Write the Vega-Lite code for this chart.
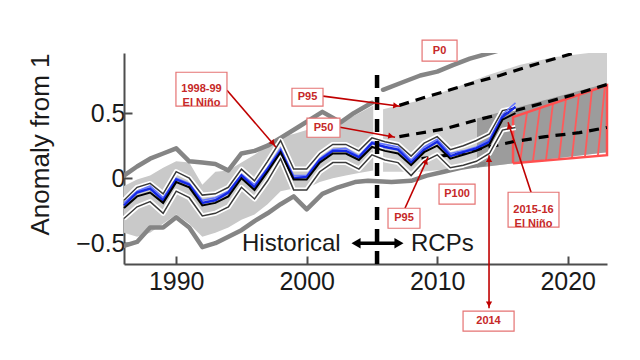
{
  "$schema": "https://vega.github.io/schema/vega-lite/v6.json",
  "width": 483,
  "height": 211,
  "autosize": {"type": "none"},
  "padding": {"left": 124, "top": 53, "right": 33, "bottom": 96},
  "background": "white",
  "config": {"view": {"stroke": null}, "font": "Liberation Sans"},
  "datasets": {
    "bands": [
      {"r": "hist", "year": 1986, "v": -0.42, "v2": -0.06},
      {"r": "hist", "year": 1987, "v": -0.45, "v2": -0.01},
      {"r": "hist", "year": 1988, "v": -0.42, "v2": 0.02},
      {"r": "hist", "year": 1989, "v": -0.35, "v2": 0.08},
      {"r": "hist", "year": 1990, "v": -0.28, "v2": 0.13},
      {"r": "hist", "year": 1991, "v": -0.35, "v2": 0.12},
      {"r": "hist", "year": 1992, "v": -0.45, "v2": -0.05},
      {"r": "hist", "year": 1993, "v": -0.42, "v2": 0.05},
      {"r": "hist", "year": 1994, "v": -0.38, "v2": 0.06},
      {"r": "hist", "year": 1995, "v": -0.32, "v2": 0.12},
      {"r": "hist", "year": 1996, "v": -0.28, "v2": 0.18},
      {"r": "hist", "year": 1997, "v": -0.2, "v2": 0.25},
      {"r": "hist", "year": 1998, "v": -0.1, "v2": 0.32},
      {"r": "hist", "year": 1999, "v": -0.08, "v2": 0.34},
      {"r": "hist", "year": 2000, "v": -0.08, "v2": 0.37},
      {"r": "hist", "year": 2001, "v": -0.03, "v2": 0.41},
      {"r": "hist", "year": 2002, "v": 0.0, "v2": 0.44},
      {"r": "hist", "year": 2003, "v": 0.02, "v2": 0.45},
      {"r": "hist", "year": 2004, "v": 0.04, "v2": 0.5},
      {"r": "hist", "year": 2005.1, "v": 0.06, "v2": 0.56},
      {"r": "light", "year": 2005.85, "v": 0.05, "v2": 0.53},
      {"r": "light", "year": 2008.7, "v": 0.05, "v2": 0.6},
      {"r": "light", "year": 2011.2, "v": 0.07, "v2": 0.69},
      {"r": "light", "year": 2013.8, "v": 0.09, "v2": 0.79},
      {"r": "light", "year": 2016.3, "v": 0.12, "v2": 0.87},
      {"r": "light", "year": 2018.9, "v": 0.15, "v2": 0.93},
      {"r": "light", "year": 2023.01, "v": 0.2, "v2": 0.98},
      {"r": "dark", "year": 2013.05, "v": 0.08, "v2": 0.46},
      {"r": "dark", "year": 2023.01, "v": 0.2, "v2": 0.73}
    ],
    "env": [
      {"s": "hmax", "year": 1986, "v": 0.02},
      {"s": "hmax", "year": 1987, "v": 0.09},
      {"s": "hmax", "year": 1988, "v": 0.15},
      {"s": "hmax", "year": 1989, "v": 0.19},
      {"s": "hmax", "year": 1990, "v": 0.23},
      {"s": "hmax", "year": 1991, "v": 0.13},
      {"s": "hmax", "year": 1992, "v": 0.12},
      {"s": "hmax", "year": 1993, "v": 0.11},
      {"s": "hmax", "year": 1994, "v": 0.06},
      {"s": "hmax", "year": 1995, "v": 0.19},
      {"s": "hmax", "year": 1996, "v": 0.21},
      {"s": "hmax", "year": 1997, "v": 0.25},
      {"s": "hmax", "year": 1998, "v": 0.31},
      {"s": "hmax", "year": 1999.3, "v": 0.39},
      {"s": "hmax", "year": 2001.2, "v": 0.51},
      {"s": "hmax", "year": 2002.6, "v": 0.43},
      {"s": "hmax", "year": 2003.6, "v": 0.5},
      {"s": "hmax", "year": 2005.0, "v": 0.58},
      {"s": "p0", "year": 2005.85, "v": 0.68},
      {"s": "p0", "year": 2007.4, "v": 0.74},
      {"s": "p0", "year": 2008.7, "v": 0.79},
      {"s": "p0", "year": 2010.0, "v": 0.82},
      {"s": "p0", "year": 2011.2, "v": 0.87},
      {"s": "p0", "year": 2012.5, "v": 0.92},
      {"s": "p0", "year": 2014.3, "v": 0.97},
      {"s": "p0", "year": 2016.0, "v": 1.02},
      {"s": "hmin", "year": 1986, "v": -0.52},
      {"s": "hmin", "year": 1987, "v": -0.49},
      {"s": "hmin", "year": 1988, "v": -0.38},
      {"s": "hmin", "year": 1989, "v": -0.38},
      {"s": "hmin", "year": 1990, "v": -0.3},
      {"s": "hmin", "year": 1991, "v": -0.38},
      {"s": "hmin", "year": 1992, "v": -0.53},
      {"s": "hmin", "year": 1993, "v": -0.5},
      {"s": "hmin", "year": 1994, "v": -0.45},
      {"s": "hmin", "year": 1995, "v": -0.4},
      {"s": "hmin", "year": 1996, "v": -0.33},
      {"s": "hmin", "year": 1997, "v": -0.27},
      {"s": "hmin", "year": 1998, "v": -0.2},
      {"s": "hmin", "year": 1999, "v": -0.14},
      {"s": "hmin", "year": 2000, "v": -0.24},
      {"s": "hmin", "year": 2001.2, "v": -0.12},
      {"s": "hmin", "year": 2002.4, "v": -0.07},
      {"s": "hmin", "year": 2003.7, "v": -0.03},
      {"s": "hmin", "year": 2004.7, "v": -0.02},
      {"s": "hmin", "year": 2006.5, "v": -0.03},
      {"s": "hmin", "year": 2008.0, "v": -0.02},
      {"s": "hmin", "year": 2009.2, "v": 0.02},
      {"s": "hmin", "year": 2010.5, "v": 0.05},
      {"s": "hmin", "year": 2011.8, "v": 0.08},
      {"s": "hmin", "year": 2013.0, "v": 0.1},
      {"s": "hmin", "year": 2013.6, "v": 0.11}
    ],
    "pct": [
      {"s": "top", "year": 2007.1, "v": 0.56},
      {"s": "top", "year": 2009, "v": 0.62},
      {"s": "top", "year": 2011, "v": 0.68},
      {"s": "top", "year": 2013, "v": 0.74},
      {"s": "top", "year": 2014.8, "v": 0.79},
      {"s": "top", "year": 2017, "v": 0.86},
      {"s": "top", "year": 2020.4, "v": 0.96},
      {"s": "top", "year": 2021, "v": 0.98},
      {"s": "mid", "year": 2007.1, "v": 0.32},
      {"s": "mid", "year": 2010.6, "v": 0.38},
      {"s": "mid", "year": 2013.1, "v": 0.45},
      {"s": "mid", "year": 2015.6, "v": 0.51},
      {"s": "mid", "year": 2018.2, "v": 0.58},
      {"s": "mid", "year": 2020.7, "v": 0.65},
      {"s": "mid", "year": 2023.0, "v": 0.72},
      {"s": "low", "year": 2008.8, "v": 0.15},
      {"s": "low", "year": 2011, "v": 0.18},
      {"s": "low", "year": 2013.5, "v": 0.23},
      {"s": "low", "year": 2015.8, "v": 0.28},
      {"s": "low", "year": 2018.3, "v": 0.32},
      {"s": "low", "year": 2020.9, "v": 0.35},
      {"s": "low", "year": 2023.0, "v": 0.39}
    ],
    "obs": [
      {"year": 1986, "c": -0.23, "up": -0.17, "lo": -0.31, "b1": -0.21, "b2": -0.19},
      {"year": 1987, "c": -0.14, "up": -0.07, "lo": -0.22, "b1": -0.11, "b2": -0.1},
      {"year": 1988, "c": -0.11, "up": -0.04, "lo": -0.18, "b1": -0.08, "b2": -0.06},
      {"year": 1989, "c": -0.19, "up": -0.12, "lo": -0.27, "b1": -0.17, "b2": -0.15},
      {"year": 1990, "c": -0.03, "up": 0.05, "lo": -0.1, "b1": -0.01, "b2": 0.0},
      {"year": 1991, "c": -0.07, "up": 0.0, "lo": -0.15, "b1": -0.05, "b2": -0.04},
      {"year": 1992, "c": -0.21, "up": -0.13, "lo": -0.29, "b1": -0.19, "b2": -0.17},
      {"year": 1993, "c": -0.19, "up": -0.12, "lo": -0.27, "b1": -0.17, "b2": -0.15},
      {"year": 1994, "c": -0.14, "up": -0.07, "lo": -0.22, "b1": -0.11, "b2": -0.1},
      {"year": 1995, "c": 0.0, "up": 0.07, "lo": -0.07, "b1": 0.02, "b2": 0.03},
      {"year": 1996, "c": -0.09, "up": -0.02, "lo": -0.16, "b1": -0.07, "b2": -0.05},
      {"year": 1997, "c": 0.05, "up": 0.13, "lo": -0.02, "b1": 0.07, "b2": 0.08},
      {"year": 1998, "c": 0.2, "up": 0.29, "lo": 0.15, "b1": 0.21, "b2": 0.23},
      {"year": 1999, "c": -0.01, "up": 0.07, "lo": -0.09, "b1": 0.0, "b2": 0.02},
      {"year": 2000, "c": -0.01, "up": 0.07, "lo": -0.09, "b1": 0.01, "b2": 0.02},
      {"year": 2001, "c": 0.12, "up": 0.19, "lo": 0.05, "b1": 0.14, "b2": 0.15},
      {"year": 2002, "c": 0.19, "up": 0.26, "lo": 0.12, "b1": 0.21, "b2": 0.22},
      {"year": 2003, "c": 0.19, "up": 0.26, "lo": 0.12, "b1": 0.21, "b2": 0.23},
      {"year": 2004, "c": 0.14, "up": 0.21, "lo": 0.07, "b1": 0.16, "b2": 0.17},
      {"year": 2005, "c": 0.24, "up": 0.31, "lo": 0.18, "b1": 0.27, "b2": 0.28},
      {"year": 2006, "c": 0.21, "up": 0.28, "lo": 0.14, "b1": 0.24, "b2": 0.26},
      {"year": 2007, "c": 0.19, "up": 0.26, "lo": 0.12, "b1": 0.22, "b2": 0.24},
      {"year": 2008, "c": 0.1, "up": 0.17, "lo": 0.02, "b1": 0.12, "b2": 0.14},
      {"year": 2009, "c": 0.2, "up": 0.27, "lo": 0.13, "b1": 0.22, "b2": 0.24},
      {"year": 2010, "c": 0.25, "up": 0.32, "lo": 0.18, "b1": 0.28, "b2": 0.3},
      {"year": 2011, "c": 0.15, "up": 0.22, "lo": 0.08, "b1": 0.17, "b2": 0.19},
      {"year": 2012, "c": 0.18, "up": 0.25, "lo": 0.1, "b1": 0.2, "b2": 0.21},
      {"year": 2013, "c": 0.21, "up": 0.29, "lo": 0.13, "b1": 0.23, "b2": 0.24},
      {"year": 2014, "c": 0.26, "up": 0.34, "lo": 0.19, "b1": 0.28, "b2": 0.3},
      {"year": 2015, "c": 0.45, "up": 0.52, "lo": 0.37, "b1": 0.47, "b2": 0.49},
      {"year": 2016, "c": 0.5, "up": 0.54, "lo": 0.39, "b1": 0.55, "b2": 0.58}
    ],
    "hatchpoly": [
      {"o": 1, "year": 2015.81, "v": 0.115},
      {"o": 2, "year": 2015.81, "v": 0.47},
      {"o": 3, "year": 2023.01, "v": 0.715},
      {"o": 4, "year": 2023.01, "v": 0.177},
      {"o": 5, "year": 2015.81, "v": 0.115}
    ],
    "hatchlines": [
      {"year": 2016.34, "v": 0.12, "year2": 2016.88, "v2": 0.506},
      {"year": 2017.33, "v": 0.128, "year2": 2017.87, "v2": 0.54},
      {"year": 2018.33, "v": 0.137, "year2": 2018.87, "v2": 0.574},
      {"year": 2019.33, "v": 0.145, "year2": 2019.86, "v2": 0.608},
      {"year": 2020.32, "v": 0.154, "year2": 2020.86, "v2": 0.642},
      {"year": 2021.32, "v": 0.162, "year2": 2021.85, "v2": 0.676},
      {"year": 2022.31, "v": 0.171, "year2": 2022.85, "v2": 0.71}
    ],
    "boxes": [
      {"year": 1989.98, "year2": 1993.89, "v": 0.815, "v2": 0.554},
      {"year": 1998.87, "year2": 2001.25, "v": 0.692, "v2": 0.554},
      {"year": 2000.02, "year2": 2002.55, "v": 0.462, "v2": 0.315},
      {"year": 2008.84, "year2": 2011.52, "v": 1.062, "v2": 0.9},
      {"year": 2010.14, "year2": 2012.9, "v": -0.046, "v2": -0.2},
      {"year": 2006.23, "year2": 2008.68, "v": -0.231, "v2": -0.385},
      {"year": 2015.43, "year2": 2019.33, "v": -0.108, "v2": -0.377},
      {"year": 2011.98, "year2": 2015.89, "v": -1.023, "v2": -1.177}
    ],
    "notes": [
      {"year": 1991.94, "v": 0.685, "label": "1998-99\nEl Niño"},
      {"year": 2000.06, "v": 0.623, "label": "P95"},
      {"year": 2001.29, "v": 0.388, "label": "P50"},
      {"year": 2010.18, "v": 0.981, "label": "P0"},
      {"year": 2011.52, "v": -0.123, "label": "P100"},
      {"year": 2007.46, "v": -0.308, "label": "P95"},
      {"year": 2017.38, "v": -0.242, "label": "2015-16\nEl Niño"},
      {"year": 2013.93, "v": -1.1, "label": "2014"}
    ],
    "arrows": [
      {"year": 1993.89, "v": 0.677, "year2": 1997.65, "v2": 0.238},
      {"year": 2001.25, "v": 0.631, "year2": 2007.15, "v2": 0.554},
      {"year": 2002.55, "v": 0.392, "year2": 2006.77, "v2": 0.315},
      {"year": 2007.53, "v": -0.231, "year2": 2009.3, "v2": 0.162},
      {"year": 2017.19, "v": -0.108, "year2": 2015.43, "v2": 0.431},
      {"year": 2013.97, "v": 0.177, "year2": 2013.97, "v2": -1.0}
    ],
    "heads": [
      {"year": 1997.42, "v": 0.269, "ang": 139},
      {"year": 2006.84, "v": 0.558, "ang": 97},
      {"year": 2006.46, "v": 0.323, "ang": 100},
      {"year": 2009.14, "v": 0.131, "ang": 24},
      {"year": 2015.5, "v": 0.4, "ang": 342},
      {"year": 2013.97, "v": 0.146, "ang": 0},
      {"year": 2013.97, "v": -0.969, "ang": 180}
    ]
  },
  "encoding": {
    "x": {
      "field": "year",
      "type": "quantitative",
      "scale": {"domain": [1986, 2023.01], "nice": false, "zero": false},
      "axis": {
        "values": [1990, 2000, 2010, 2020],
        "format": "d",
        "title": null,
        "grid": false,
        "labelFont": "Liberation Sans",
        "labelFontSize": 25,
        "labelColor": "#1a1a1a",
        "labelPadding": 13,
        "domainColor": "#4d4d4d",
        "domainWidth": 2,
        "tickColor": "#4d4d4d",
        "tickWidth": 2,
        "tickSize": -8
      }
    },
    "y": {
      "field": "v",
      "type": "quantitative",
      "scale": {"domain": [-0.66, 0.963], "nice": false, "zero": false},
      "axis": {
        "values": [-0.5, 0, 0.5],
        "format": "~g",
        "title": "Anomaly from 1",
        "titleFont": "Liberation Sans",
        "titleFontSize": 26,
        "titleFontWeight": "normal",
        "titleColor": "#1a1a1a",
        "titleAngle": 270,
        "titleAlign": "left",
        "titleBaseline": "alphabetic",
        "titleX": -76,
        "titleY": 182,
        "grid": false,
        "labelFont": "Liberation Sans",
        "labelFontSize": 25,
        "labelColor": "#1a1a1a",
        "labelPadding": 7,
        "domainColor": "#4d4d4d",
        "domainWidth": 2,
        "tickColor": "#4d4d4d",
        "tickWidth": 2,
        "tickSize": -8
      }
    }
  },
  "layer": [
    {
      "data": {"name": "bands"},
      "transform": [{"filter": "datum.r == 'hist'"}],
      "mark": {"type": "area", "color": "#c9c9c9"},
      "encoding": {"y2": {"field": "v2"}}
    },
    {
      "data": {"name": "bands"},
      "transform": [{"filter": "datum.r == 'light'"}],
      "mark": {"type": "area", "color": "#cfcfcf", "clip": true},
      "encoding": {"y2": {"field": "v2"}}
    },
    {
      "data": {"name": "bands"},
      "transform": [{"filter": "datum.r == 'dark'"}],
      "mark": {"type": "area", "color": "#9c9c9c", "clip": true},
      "encoding": {"y2": {"field": "v2"}}
    },
    {
      "data": {"name": "env"},
      "mark": {"type": "line", "color": "#858585", "strokeWidth": 4.5, "strokeCap": "round", "strokeJoin": "round", "clip": true},
      "encoding": {"detail": {"field": "s"}}
    },
    {
      "data": {"name": "hatchlines"},
      "mark": {"type": "rule", "color": "#ff5a5a", "strokeWidth": 1.8},
      "encoding": {"x2": {"field": "year2"}, "y2": {"field": "v2"}}
    },
    {
      "data": {"name": "hatchpoly"},
      "mark": {"type": "line", "color": "#ff4f4f", "strokeWidth": 2.5, "strokeJoin": "miter"},
      "encoding": {"order": {"field": "o"}}
    },
    {
      "data": {"name": "pct"},
      "mark": {"type": "line", "color": "black", "strokeWidth": 3.2, "strokeDash": [10, 7], "clip": true},
      "encoding": {"detail": {"field": "s"}}
    },
    {
      "data": {"name": "obs"},
      "transform": [{"fold": ["up", "lo"], "as": ["s", "v"]}],
      "mark": {"type": "line", "color": "white", "strokeWidth": 5, "strokeJoin": "round"},
      "encoding": {"detail": {"field": "s"}}
    },
    {
      "data": {"name": "obs"},
      "transform": [{"fold": ["up", "lo"], "as": ["s", "v"]}],
      "mark": {"type": "line", "color": "#3a3a3a", "strokeWidth": 1.5},
      "encoding": {"detail": {"field": "s"}}
    },
    {
      "data": {"name": "obs"},
      "transform": [{"fold": ["b2"], "as": ["s", "v"]}],
      "mark": {"type": "line", "color": "#6677ff", "strokeWidth": 1.6},
      "encoding": {"detail": {"field": "s"}}
    },
    {
      "data": {"name": "obs"},
      "transform": [{"fold": ["b1"], "as": ["s", "v"]}],
      "mark": {"type": "line", "color": "#1428e6", "strokeWidth": 2.4},
      "encoding": {"detail": {"field": "s"}}
    },
    {
      "data": {"name": "obs"},
      "transform": [{"fold": ["c"], "as": ["s", "v"]}],
      "mark": {"type": "line", "color": "black", "strokeWidth": 2},
      "encoding": {"detail": {"field": "s"}}
    },
    {
      "data": {"values": [{"year": 2005.39, "v": -0.66, "v2": 0.815}]},
      "mark": {"type": "rule", "color": "black", "strokeWidth": 4.5, "strokeDash": [13, 9]},
      "encoding": {"y2": {"field": "v2"}}
    },
    {
      "data": {"values": [{"year": 2003.85, "year2": 2007.0, "v": -0.5}]},
      "mark": {"type": "rule", "color": "black", "strokeWidth": 3.5},
      "encoding": {"x2": {"field": "year2"}}
    },
    {
      "data": {"values": [{"year": 2003.78, "v": -0.5, "ang": 270}, {"year": 2007.07, "v": -0.5, "ang": 90}]},
      "mark": {"type": "point", "shape": "triangle-up", "filled": true, "color": "black", "size": 110, "opacity": 1},
      "encoding": {"angle": {"field": "ang", "type": "quantitative", "scale": null}}
    },
    {
      "data": {"values": [{"year": 1995.04, "v": -0.56, "label": "Historical"}, {"year": 2007.99, "v": -0.56, "label": "RCPs"}]},
      "mark": {"type": "text", "align": "left", "baseline": "alphabetic", "fontSize": 24, "font": "Liberation Sans", "color": "#1a1a1a"},
      "encoding": {"text": {"field": "label"}}
    },
    {
      "data": {"values": [{"year": 1960, "year2": 2040, "v": 0.963, "v2": 1.8}]},
      "mark": {"type": "rect", "fill": "white", "clip": false},
      "encoding": {"x2": {"field": "year2"}, "y2": {"field": "v2"}}
    },
    {
      "data": {"name": "arrows"},
      "mark": {"type": "rule", "color": "#c00000", "strokeWidth": 1.6},
      "encoding": {"x2": {"field": "year2"}, "y2": {"field": "v2"}}
    },
    {
      "data": {"name": "heads"},
      "mark": {"type": "point", "shape": "triangle-up", "filled": true, "color": "#c00000", "size": 40, "opacity": 1},
      "encoding": {"angle": {"field": "ang", "type": "quantitative", "scale": null}}
    },
    {
      "data": {"name": "boxes"},
      "mark": {"type": "rect", "fill": "white", "stroke": "#e57373", "strokeWidth": 1.2},
      "encoding": {"x2": {"field": "year2"}, "y2": {"field": "v2"}}
    },
    {
      "data": {"name": "notes"},
      "mark": {"type": "text", "align": "center", "baseline": "middle", "lineBreak": "\n", "lineHeight": 14, "fontSize": 11, "fontWeight": "bold", "font": "Liberation Sans", "color": "#c62828"},
      "encoding": {"text": {"field": "label"}}
    }
  ]
}
